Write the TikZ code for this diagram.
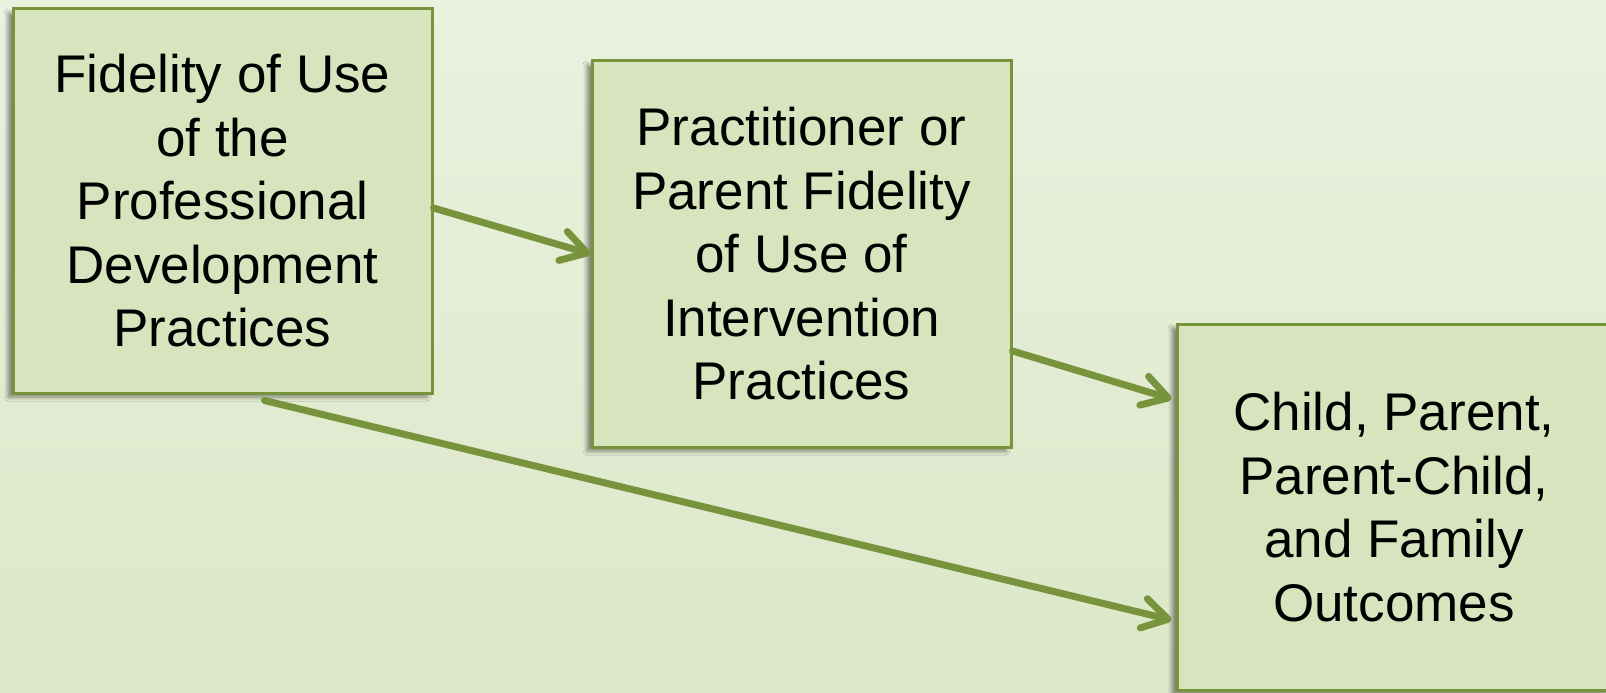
\documentclass[tikz,border=0pt]{standalone}
\usepackage{fontspec}
\setmainfont{Liberation Sans}
\usetikzlibrary{arrows.meta,calc,shadows.blur}
\definecolor{bgtop}{HTML}{EAF1DF}
\definecolor{bgbot}{HTML}{DCE7C8}
\definecolor{boxfill}{HTML}{D7E4BD}
\definecolor{olive}{HTML}{77933C}
\tikzset{
  box/.style={draw=olive, line width=3pt, fill=boxfill, align=center,
    inner sep=0pt, font=\fontsize{53}{63.5}\selectfont,
    blur shadow={shadow xshift=-5pt, shadow yshift=-4pt, shadow blur radius=4pt, shadow opacity=45}},
  conn/.style={draw=olive, line width=7pt, line cap=round,
    -{Straight Barb[length=25pt,width=30pt,round]}}
}
\begin{document}
\begin{tikzpicture}[x=1pt,y=-1pt]
\useasboundingbox (0,0) rectangle (1606,693);
\clip (0,0) rectangle (1606,693);
\shade[top color=bgtop, bottom color=bgbot] (0,0) rectangle (1606,693);
\node[box, minimum width=419pt, minimum height=384pt] (b1) at (222.5,201)
  {Fidelity of Use\\of the\\Professional\\Development\\Practices};
\node[box, minimum width=419pt, minimum height=386pt] (b2) at (801.5,254)
  {Practitioner or\\Parent Fidelity\\of Use of\\Intervention\\Practices};
\node[box, minimum width=434pt, minimum height=366pt] (b3) at (1394,507)
  {Child, Parent,\\Parent-Child,\\and Family\\Outcomes};
\draw[conn] ($(b1.east)+(0,7)$) -- (b2.west);
\draw[conn] ($(b2.east)+(0,97)$) -- ($(b3.west)+(-4,-108)$);
\draw[conn] ($(b1.south)+(42,6)$) -- ($(b3.west)+(-4,113)$);
\end{tikzpicture}
\end{document}
